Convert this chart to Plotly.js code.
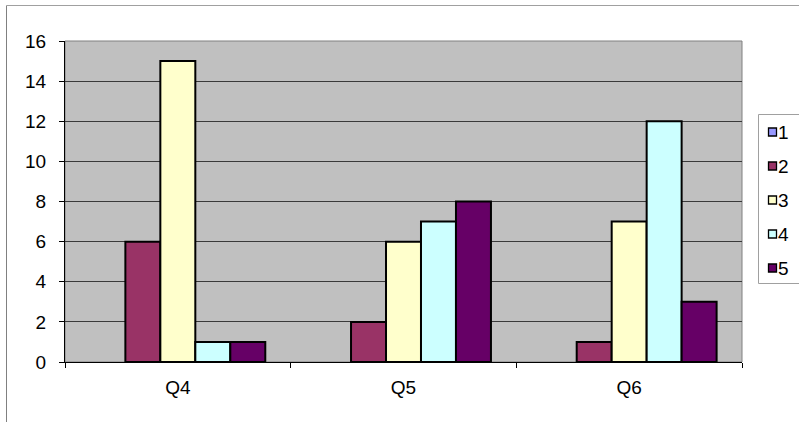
<!DOCTYPE html>
<html>
<head>
<meta charset="utf-8">
<script src="https://cdn.plot.ly/plotly-3.0.1.min.js"></script>
<style>html,body{margin:0;padding:0;background:#fff;}#chart{width:799px;height:422px;}</style>
</head>
<body>
<div id="chart"></div>
<script>
const categories = ["Q4", "Q5", "Q6"];
const seriesNames = ["1", "2", "3", "4", "5"];
const series1 = [0, 0, 0];
const series2 = [6, 2, 1];
const series3 = [15, 6, 7];
const series4 = [1, 7, 12];
const series5 = [1, 8, 3];
const colors = ["#9999FF", "#993366", "#FFFFCC", "#CCFFFF", "#660066"];
const allSeries = [series1, series2, series3, series4, series5];

const traces = allSeries.map((vals, i) => ({
  type: "bar",
  name: seriesNames[i],
  x: categories,
  y: vals,
  marker: { color: colors[i], line: { color: "#000000", width: vals.every(v => v === 0) ? 0 : 2 } },
  hoverinfo: "x+y+name"
}));

// plot area in pixels: x 65..742, y 41..362
const W = 677, H = 321, L = 65, B = 362;
const px = v => (v - L) / W;
const py = v => (B - v) / H;
const FS = 19;

const shapes = [
  { type: "rect", xref: "paper", yref: "paper", x0: 0, x1: 1, y0: 0, y1: 1,
    line: { color: "#808080", width: 1 }, fillcolor: "rgba(0,0,0,0)", layer: "below" },
  // outer chart border
  { type: "line", xref: "paper", yref: "paper", x0: px(6.5), x1: px(6.5), y0: py(430), y1: py(5.5),
    line: { color: "#808080", width: 1 } },
  { type: "line", xref: "paper", yref: "paper", x0: px(6.5), x1: px(810), y0: py(5.5), y1: py(5.5),
    line: { color: "#A0A0A0", width: 1 } },
  // legend box
  { type: "rect", xref: "paper", yref: "paper", x0: px(758.5), x1: px(810), y0: py(283.5), y1: py(114.5),
    line: { color: "#A0A0A0", width: 1 }, fillcolor: "#FFFFFF" }
];
const annotations = [];
seriesNames.forEach((nm, i) => {
  const cy = 132 + 34 * i;
  shapes.push({ type: "rect", xref: "paper", yref: "paper",
    x0: px(768.5), x1: px(776.5), y0: py(cy + 4), y1: py(cy - 4),
    line: { color: "#000000", width: 1.3 }, fillcolor: colors[i] });
  annotations.push({ xref: "paper", yref: "paper", x: px(776), y: py(cy),
    xanchor: "left", yanchor: "middle", showarrow: false, text: nm,
    font: { size: FS, color: "#000000" } });
});

const layout = {
  width: 799,
  height: 422,
  margin: { l: 65, r: 57, t: 41, b: 60, autoexpand: false },
  paper_bgcolor: "#FFFFFF",
  plot_bgcolor: "#C0C0C0",
  font: { family: "Liberation Sans, Arial, sans-serif", size: FS, color: "#000000" },
  barmode: "group",
  bargap: 0.225,
  bargroupgap: 0,
  showlegend: false,
  xaxis: {
    type: "category",
    showgrid: false,
    ticks: "outside",
    tickson: "boundaries",
    ticklen: 5,
    tickcolor: "#000000",
    tickfont: { size: FS },
    showline: true,
    linecolor: "#000000",
    linewidth: 1,
    zeroline: false,
    ticklabelstandoff: 8,
    fixedrange: true
  },
  yaxis: {
    range: [0, 16],
    dtick: 2,
    showgrid: true,
    gridcolor: "#3a3a3a",
    gridwidth: 1,
    ticks: "outside",
    ticklen: 5,
    tickcolor: "#000000",
    tickfont: { size: FS },
    showline: true,
    linecolor: "#000000",
    linewidth: 1,
    zeroline: false,
    ticklabelstandoff: 9,
    fixedrange: true
  },
  shapes: shapes,
  annotations: annotations
};

Plotly.newPlot("chart", traces, layout, { displayModeBar: false, staticPlot: true });
</script>
</body>
</html>
